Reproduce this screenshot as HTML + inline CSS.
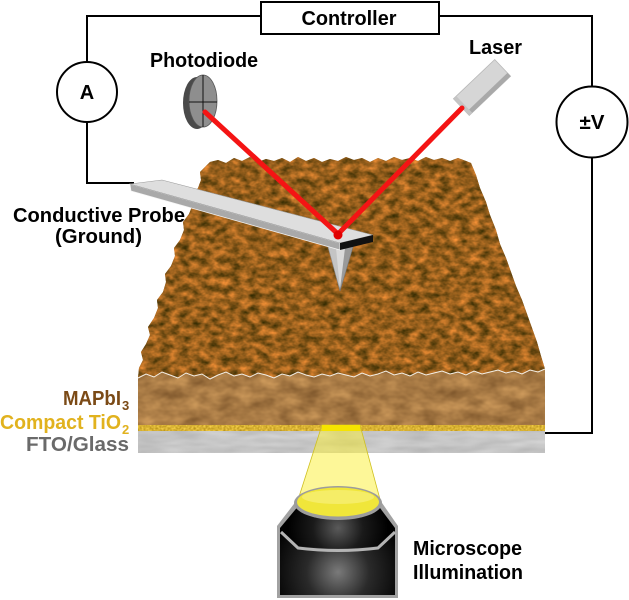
<!DOCTYPE html>
<html>
<head>
<meta charset="utf-8">
<style>
  html,body{margin:0;padding:0;background:#fff;}
  svg{display:block;}
  text{font-family:"Liberation Sans",Arial,sans-serif;font-weight:bold;}
</style>
</head>
<body>
<svg width="629" height="600" viewBox="0 0 629 600" xmlns="http://www.w3.org/2000/svg">
  <defs>
    <filter id="brownTex" filterUnits="userSpaceOnUse" x="130" y="150" width="425" height="235" color-interpolation-filters="sRGB">
      <feTurbulence type="fractalNoise" baseFrequency="0.1 0.14" numOctaves="3" seed="7" result="n"/>
      <feColorMatrix in="n" type="matrix" values="0.95 0 0 0 0.11  0.5 0 0 0 0.12  0.26 0 0 0 -0.02  0 0 0 0 1"/>
    </filter>
    <filter id="frontTex" filterUnits="userSpaceOnUse" x="130" y="360" width="425" height="70" color-interpolation-filters="sRGB">
      <feTurbulence type="fractalNoise" baseFrequency="0.05 0.08" numOctaves="3" seed="11" result="n"/>
      <feColorMatrix in="n" type="matrix" values="0.4 0 0 0 0.46  0.34 0 0 0 0.31  0.24 0 0 0 0.15  0 0 0 0 1"/>
    </filter>
    <filter id="greyTex" filterUnits="userSpaceOnUse" x="138" y="431" width="407" height="22" color-interpolation-filters="sRGB">
      <feTurbulence type="fractalNoise" baseFrequency="0.03 0.15" numOctaves="2" seed="4" result="n"/>
      <feColorMatrix in="n" type="matrix" values="0.15 0 0 0 0.70  0.15 0 0 0 0.70  0.15 0 0 0 0.70  0 0 0 0 1"/>
    </filter>
    <filter id="goldTex" filterUnits="userSpaceOnUse" x="138" y="425" width="407" height="6" color-interpolation-filters="sRGB">
      <feTurbulence type="fractalNoise" baseFrequency="0.5" numOctaves="1" seed="2" result="n"/>
      <feColorMatrix in="n" type="matrix" values="0.4 0 0 0 0.65  0.4 0 0 0 0.5  0.3 0 0 0 0.05  0 0 0 0 1"/>
    </filter>
    <clipPath id="surfClip">
      <path d="M138,378 L139,368 L143,360 L141,352 L146,344 L150,335 L148,327 L154,318 L158,308 L157,300 L163,292 L166,282 L165,274 L171,266 L175,256 L174,248 L180,240 L184,230 L183,222 L189,214 L193,204 L192,196 L198,188 L201,180 L200,172 L206,166 L210,162
      L218,160 L226,163 L234,158 L242,161 L250,157 L258,162 L266,159 L274,161 L282,158 L290,162 L298,157 L306,161 L314,158 L322,162 L330,159 L338,161 L346,157 L354,160 L362,158 L370,162 L378,158 L386,161 L394,157 L402,160 L410,158 L418,161 L426,157 L434,160 L442,158 L450,161 L458,158 L466,161 L471,163
      L476,175 L480,188 L486,202 L490,215 L496,230 L500,244 L506,258 L511,272 L516,286 L522,300 L527,314 L532,328 L537,342 L541,356 L545,369
      L538,372 L530,370 L522,374 L514,371 L506,373 L498,370 L490,372 L482,374 L474,371 L466,375 L458,372 L450,374 L442,371 L434,373 L426,375 L418,372 L410,376 L402,373 L394,375 L386,371 L378,374 L370,376 L362,373 L354,377 L346,375 L338,373 L330,376 L322,374 L314,377 L306,375 L298,372 L290,376 L282,374 L274,378 L266,375 L258,373 L250,377 L242,374 L234,376 L226,372 L218,375 L210,379 L202,374 L194,376 L186,373 L178,378 L170,375 L162,372 L154,377 L146,374 Z"/>
    </clipPath>
    <clipPath id="frontClip">
      <path d="M138,378 L146,374 L154,377 L162,372 L170,375 L178,378 L186,373 L194,376 L202,374 L210,379 L218,375 L226,372 L234,376 L242,374 L250,377 L258,373 L266,375 L274,378 L282,374 L290,376 L298,372 L306,375 L314,377 L322,374 L330,376 L338,373 L346,375 L354,377 L362,373 L370,376 L378,374 L386,371 L394,375 L402,373 L410,376 L418,372 L426,375 L434,373 L442,371 L450,374 L458,372 L466,375 L474,371 L482,374 L490,372 L498,370 L506,373 L514,371 L522,374 L530,370 L538,372 L545,369 L545,425 L138,425 Z"/>
    </clipPath>
    <radialGradient id="bodyGrad" cx="338" cy="572" r="70" gradientUnits="userSpaceOnUse">
      <stop offset="0" stop-color="#7a7a7a"/>
      <stop offset="0.45" stop-color="#2a2a2a"/>
      <stop offset="1" stop-color="#000"/>
    </radialGradient>
    <radialGradient id="capGrad" cx="338" cy="528" r="50" gradientUnits="userSpaceOnUse">
      <stop offset="0" stop-color="#5a5a5a"/>
      <stop offset="0.5" stop-color="#1a1a1a"/>
      <stop offset="1" stop-color="#000"/>
    </radialGradient>
  </defs>

  <!-- wires -->
  <g stroke="#000" stroke-width="2" fill="none">
    <polyline points="261,16 87,16 87,62"/>
    <polyline points="87,122 87,183 134,183"/>
    <polyline points="439,16 592,16 592,86"/>
    <polyline points="592,158 592,433 545,433"/>
    <rect x="261" y="2" width="178" height="32" fill="#fff"/>
    <circle cx="87" cy="92" r="30" fill="#fff"/>
    <circle cx="592" cy="122" r="35.5" fill="#fff"/>
  </g>
  <text x="349" y="25" font-size="20" text-anchor="middle" textLength="95" lengthAdjust="spacingAndGlyphs">Controller</text>
  <text x="87" y="99" font-size="20" text-anchor="middle">A</text>
  <text x="592" y="129" font-size="20" text-anchor="middle" textLength="25" lengthAdjust="spacingAndGlyphs">±V</text>

  <!-- labels -->
  <text x="150" y="67" font-size="20" textLength="108" lengthAdjust="spacingAndGlyphs">Photodiode</text>
  <text x="469" y="54" font-size="20" textLength="53" lengthAdjust="spacingAndGlyphs">Laser</text>
  <text x="13" y="222" font-size="20" textLength="172" lengthAdjust="spacingAndGlyphs">Conductive Probe</text>
  <text x="55" y="243" font-size="20" textLength="87" lengthAdjust="spacingAndGlyphs">(Ground)</text>

  <text x="63" y="405" font-size="20" fill="#7b4a16" textLength="58" lengthAdjust="spacingAndGlyphs">MAPbI</text>
  <text x="122" y="410" font-size="13" fill="#7b4a16">3</text>
  <text x="0" y="429" font-size="20" fill="#e1b21e" textLength="121" lengthAdjust="spacingAndGlyphs">Compact TiO</text>
  <text x="122" y="434" font-size="13" fill="#e1b21e">2</text>
  <text x="26" y="451" font-size="20" fill="#6a6a6a" textLength="103" lengthAdjust="spacingAndGlyphs">FTO/Glass</text>

  <text x="413" y="555" font-size="20" textLength="109" lengthAdjust="spacingAndGlyphs">Microscope</text>
  <text x="413" y="579" font-size="20" textLength="110" lengthAdjust="spacingAndGlyphs">Illumination</text>

  <!-- layers -->
  <g clip-path="url(#frontClip)">
    <rect x="130" y="360" width="425" height="70" fill="#a87948"/>
    <rect x="130" y="360" width="425" height="70" filter="url(#frontTex)"/>
  </g>
  <rect x="138" y="425" width="407" height="6" fill="#d8b236"/>
  <rect x="138" y="425" width="407" height="6" filter="url(#goldTex)"/>
  <rect x="138" y="431" width="407" height="22" fill="#c4c4c4"/>
  <rect x="138" y="431" width="407" height="22" filter="url(#greyTex)"/>

  <!-- surface -->
  <g clip-path="url(#surfClip)">
    <rect x="130" y="150" width="425" height="235" fill="#8c5c1c"/>
    <rect x="130" y="150" width="425" height="235" filter="url(#brownTex)"/>
  </g>
  <polyline fill="none" stroke="#f4efe6" stroke-width="1" points="138,378 146,374 154,377 162,372 170,375 178,378 186,373 194,376 202,374 210,379 218,375 226,372 234,376 242,374 250,377 258,373 266,375 274,378 282,374 290,376 298,372 306,375 314,377 322,374 330,376 338,373 346,375 354,377 362,373 370,376 378,374 386,371 394,375 402,373 410,376 418,372 426,375 434,373 442,371 450,374 458,372 466,375 474,371 482,374 490,372 498,370 506,373 514,371 522,374 530,370 538,372 545,369"/>

  <!-- light cone -->
  <polygon points="322,425 360,425 381,503 297,503" fill="rgba(252,240,50,0.5)" stroke="#cfc020" stroke-width="0.8"/>
  <rect x="322" y="425" width="38" height="6" fill="#f6e400"/>

  <!-- objective -->
  <path d="M297,500 L277,526 L277,598 L398,598 L398,526 L380,500 Z" fill="#a2a2a2"/>
  <path d="M300,504 L280,528 L280,595 L395,595 L395,528 L377,504 Z" fill="url(#bodyGrad)"/>
  <path d="M300,504 L281,530 L298,546 Q338,551 378,546 L394,530 L377,504 Z" fill="url(#capGrad)"/>
  <path d="M281,532 L298,548 Q338,553 378,548 L395,532" fill="none" stroke="#b4b4b4" stroke-width="3"/>
  <ellipse cx="338" cy="503" rx="44" ry="17" fill="#9c9c9c"/>
  <ellipse cx="338" cy="502" rx="41" ry="14.5" fill="#f0e63a"/>
  <ellipse cx="338" cy="497" rx="36" ry="7" fill="#f7f07a" opacity="0.7"/>

  <!-- photodiode -->
  <ellipse cx="197" cy="103" rx="14" ry="26" fill="#4a4a4a"/>
  <polygon points="197,77 203,75 203,127 197,129" fill="#4a4a4a"/>
  <ellipse cx="203" cy="101" rx="14" ry="26" fill="#8e8e8e" stroke="#555" stroke-width="0.8"/>
  <line x1="203" y1="75" x2="203" y2="127" stroke="#111" stroke-width="1"/>
  <line x1="189" y1="102" x2="217" y2="102" stroke="#111" stroke-width="1"/>

  <!-- laser -->
  <g transform="translate(482,87.5) rotate(-43.6)">
    <rect x="-28.5" y="-11.5" width="57" height="23" fill="#d6d6d6" stroke="#b8b8b8" stroke-width="0.8"/>
    <rect x="-28.5" y="7" width="57" height="4.5" fill="#a9a9a9"/>
    <rect x="-28.5" y="-11.5" width="4" height="23" fill="#c4c4c4"/>
  </g>

  <!-- tip -->
  <polygon points="328,247 340,247 340,291" fill="#c4c4c4" stroke="#888" stroke-width="0.6"/>
  <polygon points="340,247 353,247 340,291" fill="#9a9a9a" stroke="#777" stroke-width="0.6"/>
  <polygon points="336,248 345,248 340,289" fill="#dadada"/>

  <!-- cantilever -->
  <polygon points="130,184 340,243 340,250 131,191" fill="#a9a9a9" stroke="#f4f4f4" stroke-width="0.7"/>
  <polygon points="130,184 162,180 373,235 340,243" fill="#dedede" stroke="#9a9a9a" stroke-width="0.6"/>
  <polygon points="340,243 373,235 373,242 340,250" fill="#111"/>

  <!-- beam -->
  <polyline points="205,112 338,234 462,108" fill="none" stroke="#f41414" stroke-width="5" stroke-linejoin="round" stroke-linecap="round"/>
  <circle cx="338" cy="235" r="4.5" fill="#e00000"/>
</svg>
</body>
</html>
